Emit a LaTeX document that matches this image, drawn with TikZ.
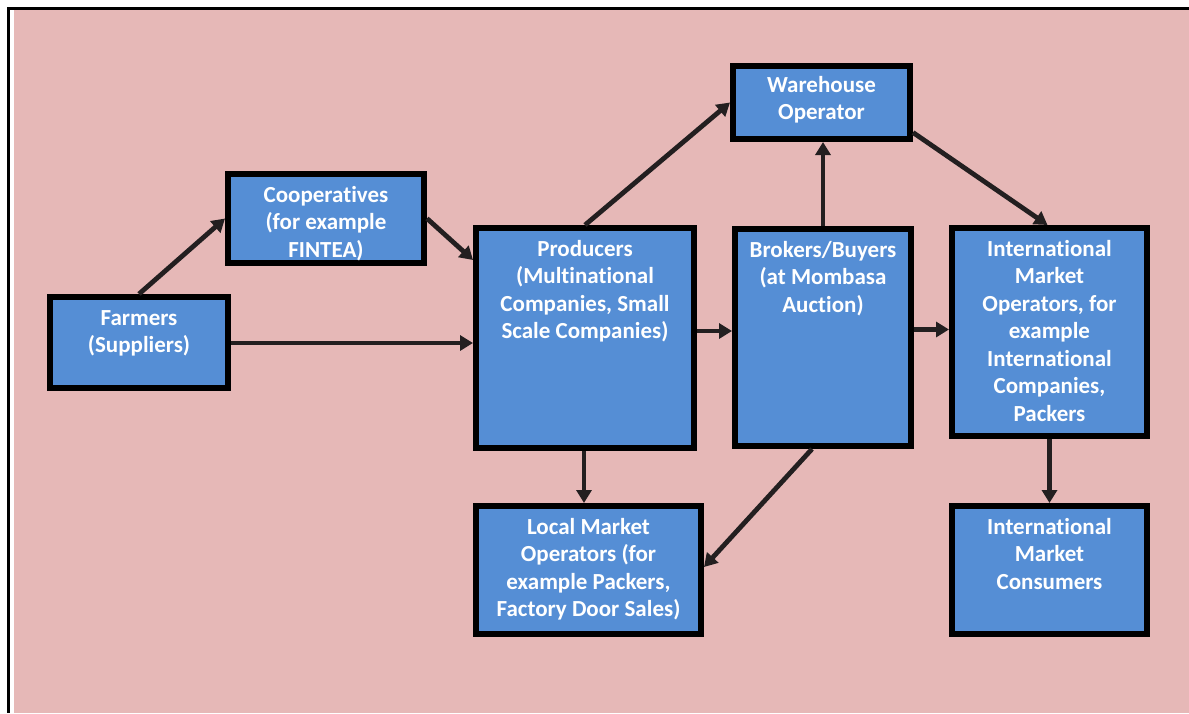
\documentclass[tikz,border=0pt]{standalone}
\usepackage{fontspec}
\setmainfont{Carlito}[Ligatures=NoCommon]
\usetikzlibrary{arrows.meta,calc}
\definecolor{bgpink}{HTML}{E6B8B7}
\definecolor{boxblue}{HTML}{558ED5}
\definecolor{arrowdark}{HTML}{231F20}
\tikzset{
  box/.style={draw=black, line width=6pt, fill=boxblue},
  txt/.style={text=white, font=\bfseries\fontsize{23}{27.5}\selectfont,
    align=center, inner sep=0pt, anchor=north},
  flow/.style={draw=arrowdark, line width=4.8pt,
    -{Triangle[length=13pt,width=15pt]}}
}
\newcommand{\fl}{\vphantom{(Ay}}
\begin{document}
\begin{tikzpicture}[x=1pt,y=-1pt]
  % canvas and frame
  \useasboundingbox (0,0) rectangle (1189,713);
  \fill[white] (0,0) rectangle (1189,713);
  \fill[bgpink] (14,10) rectangle (1189,713);
  \fill[black] (7,7) rectangle (1189,10);
  \fill[black] (7,7) rectangle (10,713);

  % boxes
  \node[box, minimum width=178pt, minimum height=91pt]  (farm)   at (139,342.5)  {};
  \node[box, minimum width=196pt, minimum height=89pt]  (coop)   at (326,218.5)  {};
  \node[box, minimum width=218pt, minimum height=220pt] (prod)   at (585,338)    {};
  \node[box, minimum width=177pt, minimum height=73pt]  (ware)   at (821.5,102.5){};
  \node[box, minimum width=176pt, minimum height=217pt] (brok)   at (823,337.5)  {};
  \node[box, minimum width=195pt, minimum height=208pt] (intop)  at (1049.5,332) {};
  \node[box, minimum width=195pt, minimum height=128pt] (intcon) at (1049.5,570) {};
  \node[box, minimum width=225pt, minimum height=128pt] (local)  at (588.5,570)  {};

  % labels, set at the top of each box
  \node[txt] (farmT)   at ([yshift=-14pt]farm.north)   {\fl Farmers\\(Suppliers)};
  \node[txt] (coopT)   at ([yshift=-14pt]coop.north)   {\fl Cooperatives\\(for example\\FINTEA)};
  \node[txt] (prodT)   at ([yshift=-14pt]prod.north)   {\fl Producers\\(Multinational\\Companies, Small\\Scale Companies)};
  \node[txt] (wareT)   at ([yshift=-12pt]ware.north)   {\fl Warehouse\\Operator};
  \node[txt] (brokT)   at ([yshift=-14pt]brok.north)   {\fl Brokers/Buyers\\(at Mombasa\\Auction)};
  \node[txt] (intopT)  at ([yshift=-14pt]intop.north)  {\fl International\\Market\\Operators, for\\example\\International\\Companies,\\Packers};
  \node[txt] (intconT) at ([yshift=-14pt]intcon.north) {\fl International\\Market\\Consumers};
  \node[txt] (localT)  at ([yshift=-14pt]local.north)  {\fl Local Market\\Operators (for\\example Packers,\\Factory Door Sales)};

  % flows
  \draw[flow] (farm.north) -- (coop.west);
  \draw[flow] (coop.east) -- ([yshift=78pt]prod.west);
  \draw[flow] ([yshift=-0.5pt]farm.east) -- ([yshift=-0.5pt]farm.east -| prod.west);
  \draw[flow] (prod.north) -- (ware.west);
  \draw[flow] (brok.north) -- (brok.north |- ware.south);
  \draw[flow] ([yshift=7pt]prod.east) -- ([yshift=7pt]prod.east -| brok.west);
  \draw[flow] ([yshift=-30pt]ware.east) -- ([xshift=-2pt]intop.north);
  \draw[flow] ([yshift=8pt]brok.east) -- ([yshift=8pt]brok.east -| intop.west);
  \draw[flow] (intop.south) -- (intcon.north);
  \draw[flow] ([xshift=-1pt]prod.south) -- ([xshift=-1pt]prod.south |- local.north);
  \draw[flow] ([xshift=-11pt]brok.south) -- ([yshift=3pt]local.east);
\end{tikzpicture}
\end{document}
